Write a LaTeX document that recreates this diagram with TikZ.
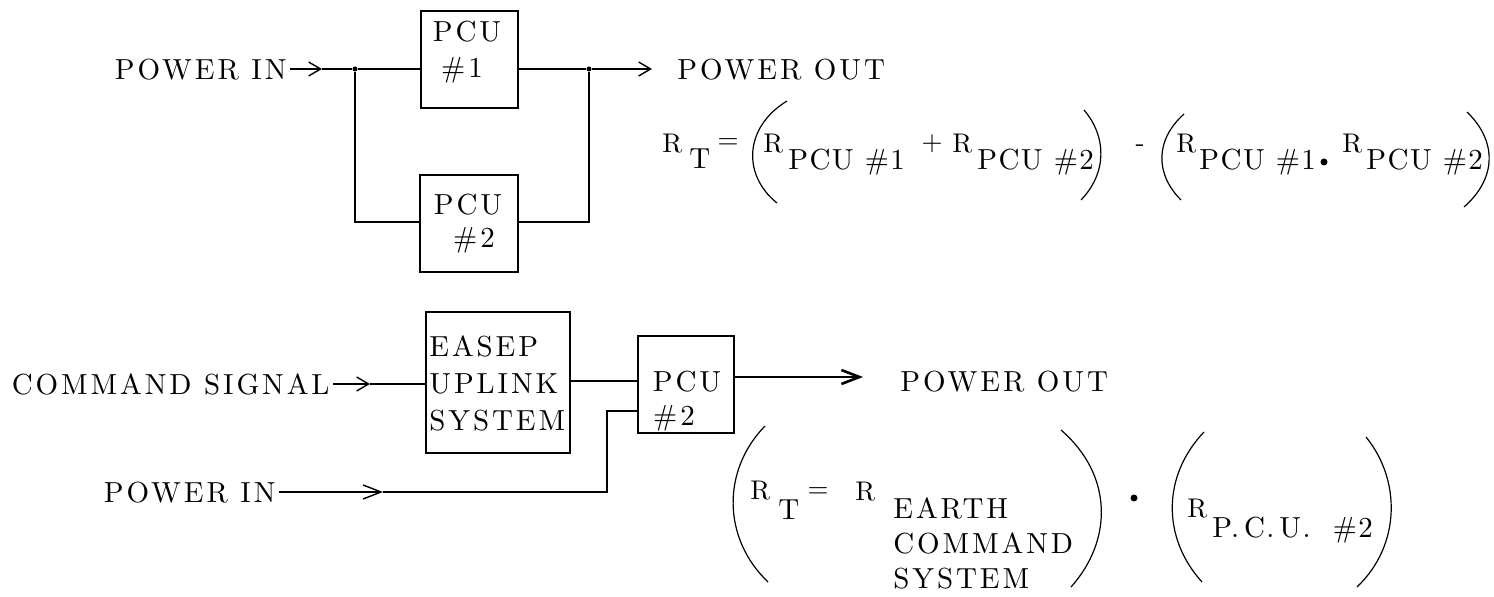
\documentclass[tikz,border=0pt]{standalone}
\usepackage{fontspec}
\newfontfamily\wfont{lmroman10-regular.otf}[LetterSpace=10]
\newfontfamily\sfontx{lmroman10-regular.otf}[LetterSpace=5]
\newfontfamily\rfont{lmroman10-regular.otf}[LetterSpace=3]
\usetikzlibrary{arrows.meta}
\begin{document}
\begin{tikzpicture}[x=0.5pt,y=-0.5pt,
  lbl/.style={inner sep=0pt, font=\wfont\fontsize{14.5}{20}\selectfont},
  sub/.style={inner sep=0pt, font=\sfontx\fontsize{14.5}{20}\selectfont},
  rr/.style={inner sep=0pt, font=\rfont\fontsize{13.5}{16}\selectfont},
  blk/.style={draw, line width=0.7pt, inner sep=0pt},
  wire/.style={line width=0.7pt},
  arr/.style={wire, -{Straight Barb[length=6pt,width=7pt]}},
  paren/.style={line width=0.6pt},
  dotj/.style={circle, fill, inner sep=0pt, minimum size=2.5pt}]
\useasboundingbox (0,0) rectangle (1494,597);

% ---------- top diagram ----------
\node[blk, minimum width=48.5pt, minimum height=48.5pt] (box1) at (469.5,59.5) {};
\node[blk, minimum width=49pt, minimum height=48.5pt] (box2) at (469,223.5) {};
\node[lbl] (t1a) at (467,32) {PCU};
\node[lbl] (t1b) at (462,70) {\#1};
\node[lbl] (t2a) at (468,205) {PCU};
\node[lbl] (t2b) at (474,240) {\#2};

\node[lbl, anchor=east] (pin1) at (287,70) {POWER IN};
\node[lbl, anchor=west] (pout1) at (677,70) {POWER OUT};

\coordinate (a1) at (322,69);
\node[dotj] (j1) at (355,69) {};
\node[dotj] (j2) at (589,69) {};
\coordinate (a2) at (652,69);
\coordinate (b1) at (355,222);
\coordinate (b2) at (589,222);

\draw[arr] (pin1.east |- a1) ++(3,0) -- (a1);
\draw[wire] (a1) -- (j1) -- (box1.west |- j1);
\draw[wire] (j1) -- (b1) -- (box2.west |- b1);
\draw[wire] (box1.east |- j2) -- (j2);
\draw[arr] (j2) -- (a2);
\draw[wire] (j2) -- (b2) -- (box2.east |- b2);

% top equation
\node[rr, anchor=base west] (r1) at (662,152.2) {R};
\node[sub, anchor=base west] (s1) at (689,168.9) {T};
\node[rr] (e1) at (728,144) {=};
\node[rr, anchor=base west] (r2) at (763,152.2) {R};
\node[sub, anchor=base west] (s2) at (788,169.9) {PCU \#1};
\node[rr] (p1) at (932,144) {+};
\node[rr, anchor=base west] (r3) at (952,152.2) {R};
\node[sub, anchor=base west] (s3) at (977,169.9) {PCU \#2};
\node[rr] (m1) at (1140,148) {-};
\node[rr, anchor=base west] (r4) at (1176,152.2) {R};
\node[sub, anchor=base west] (s4) at (1199,169.9) {PCU \#1};
\node[dotj, minimum size=3.5pt] (d1) at (1324,162) {};
\node[rr, anchor=base west] (r5) at (1342,152.2) {R};
\node[sub, anchor=base west] (s5) at (1366,169.9) {PCU \#2};

\draw[paren] (787,101) .. controls (743,128) and (743,176) .. (777,203);
\draw[paren] (1084,110) .. controls (1107,137) and (1107,173) .. (1081,200);
\draw[paren] (1184,114) .. controls (1155,140) and (1155,174) .. (1181,200);
\draw[paren] (1467,112) .. controls (1497,141) and (1497,178) .. (1464,207);

% ---------- bottom diagram ----------
\node[blk, minimum width=72pt, minimum height=70.5pt] (easep) at (498,382.5) {};
\node[lbl, anchor=west, align=left, font=\wfont\fontsize{14.5}{18.5}\selectfont] (easept) at (429,383) {EASEP\\UPLINK\\SYSTEM};
\node[blk, minimum width=48pt, minimum height=48.5pt] (box3) at (686,384.5) {};
\node[lbl] (t3a) at (687,382) {PCU};
\node[lbl] (t3b) at (674,418) {\#2};

\node[lbl, anchor=east] (cmd) at (330,384) {COMMAND SIGNAL};
\node[lbl, anchor=west] (pout2) at (900,382) {POWER OUT};
\node[lbl, anchor=east] (pin2) at (276,493) {POWER IN};

\coordinate (a3) at (370,384);
\draw[arr] (cmd.east) ++(3,0) -- (a3);
\draw[wire] (a3) -- (easep.west |- a3);
\draw[wire] (easep.east |- 0,381) -- (box3.west |- 0,381);
\coordinate (a4) at (863,377);
\draw[line width=1.3pt, -{Straight Barb[length=9pt,width=7pt]}] (box3.east |- a4) -- (a4);
\coordinate (a5) at (383,492);
\coordinate (c5) at (607,492);
\draw[wire, -{Straight Barb[length=9pt,width=7pt]}] (pin2.east |- a5) ++(3,0) -- (a5);
\draw[wire] (a5) -- (c5) |- (box3.west |- 0,411);

% bottom equation
\node[rr, anchor=base west] (r6) at (750,499.2) {R};
\node[sub, anchor=base west] (s6) at (778,519.9) {T};
\node[rr] (e2) at (818,493) {=};
\node[rr, anchor=base west] (r7) at (855,500.2) {R};
\node[lbl, anchor=north west, align=left, font=\wfont\fontsize{14.5}{17.5}\selectfont] (s7) at (893,497) {EARTH\\COMMAND\\SYSTEM};
\node[dotj, minimum size=3.5pt] (d2) at (1134,498) {};
\node[rr, anchor=base west] (r8) at (1187,517.2) {R};
\node[sub, anchor=base west] (s8) at (1212,537.9) {P.\,C.\,U.\ \ \#2};

\draw[paren] (765,426) .. controls (722,470) and (722,538) .. (768,582);
\draw[paren] (1061,430) .. controls (1113,475) and (1113,540) .. (1071,587);
\draw[paren] (1204,432) .. controls (1162,476) and (1162,538) .. (1202,582);
\draw[paren] (1366,437) .. controls (1401,480) and (1401,545) .. (1357,587);
\end{tikzpicture}
\end{document}
